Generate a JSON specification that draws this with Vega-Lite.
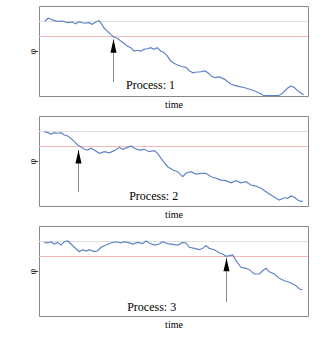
{
  "$schema": "https://vega.github.io/schema/vega-lite/v6.json",
  "padding": {"left": 26, "top": 5, "right": 5, "bottom": 5},
  "background": "white",
  "data": {"values": [
    {"p":1,"k":"w","t":6,"v":0},{"p":1,"k":"w","t":9.3,"v":0.2},{"p":1,"k":"w","t":13.3,"v":0.07},{"p":1,"k":"w","t":18.3,"v":-0.02},{"p":1,"k":"w","t":23.3,"v":0},{"p":1,"k":"w","t":28.3,"v":-0.11},{"p":1,"k":"w","t":33.3,"v":-0.07},{"p":1,"k":"w","t":36.7,"v":-0.18},{"p":1,"k":"w","t":40,"v":-0.05},{"p":1,"k":"w","t":45,"v":-0.15},{"p":1,"k":"w","t":50,"v":-0.11},{"p":1,"k":"w","t":53.3,"v":-0.22},{"p":1,"k":"w","t":56.7,"v":-0.07},{"p":1,"k":"w","t":60,"v":0.02},{"p":1,"k":"w","t":61.7,"v":-0.11},{"p":1,"k":"w","t":65,"v":-0.45},{"p":1,"k":"w","t":68.3,"v":-0.67},{"p":1,"k":"w","t":71.7,"v":-0.89},{"p":1,"k":"w","t":75,"v":-1.08},{"p":1,"k":"w","t":78.3,"v":-1.15},{"p":1,"k":"w","t":81.7,"v":-1.33},{"p":1,"k":"w","t":85,"v":-1.49},{"p":1,"k":"w","t":88.3,"v":-1.67},{"p":1,"k":"w","t":91.7,"v":-1.78},{"p":1,"k":"w","t":95,"v":-2.0},{"p":1,"k":"w","t":98.3,"v":-1.95},{"p":1,"k":"w","t":101.7,"v":-2.0},{"p":1,"k":"w","t":105,"v":-1.89},{"p":1,"k":"w","t":108.3,"v":-1.85},{"p":1,"k":"w","t":111.7,"v":-1.78},{"p":1,"k":"w","t":115,"v":-1.89},{"p":1,"k":"w","t":118.3,"v":-1.78},{"p":1,"k":"w","t":121.7,"v":-2.0},{"p":1,"k":"w","t":125,"v":-2.11},{"p":1,"k":"w","t":128.3,"v":-2.33},{"p":1,"k":"w","t":131.7,"v":-2.67},{"p":1,"k":"w","t":135,"v":-2.82},{"p":1,"k":"w","t":139,"v":-2.95},{"p":1,"k":"w","t":144,"v":-3.05},{"p":1,"k":"w","t":147.3,"v":-3.11},{"p":1,"k":"w","t":150.7,"v":-3.33},{"p":1,"k":"w","t":154,"v":-3.45},{"p":1,"k":"w","t":157.3,"v":-3.4},{"p":1,"k":"w","t":160.7,"v":-3.4},{"p":1,"k":"w","t":165.7,"v":-3.33},{"p":1,"k":"w","t":169,"v":-3.45},{"p":1,"k":"w","t":172.3,"v":-3.67},{"p":1,"k":"w","t":175.7,"v":-3.78},{"p":1,"k":"w","t":180.7,"v":-3.73},{"p":1,"k":"w","t":185.7,"v":-3.89},{"p":1,"k":"w","t":189,"v":-4.07},{"p":1,"k":"w","t":192.3,"v":-4.22},{"p":1,"k":"w","t":195.7,"v":-4.29},{"p":1,"k":"w","t":200.7,"v":-4.38},{"p":1,"k":"w","t":205.7,"v":-4.45},{"p":1,"k":"w","t":210.7,"v":-4.55},{"p":1,"k":"w","t":215.7,"v":-4.67},{"p":1,"k":"w","t":220.7,"v":-4.82},{"p":1,"k":"w","t":224,"v":-4.95},{"p":1,"k":"w","t":229,"v":-4.98},{"p":1,"k":"w","t":234,"v":-4.97},{"p":1,"k":"w","t":239,"v":-4.98},{"p":1,"k":"w","t":242.3,"v":-4.89},{"p":1,"k":"w","t":245.7,"v":-4.67},{"p":1,"k":"w","t":249,"v":-4.45},{"p":1,"k":"w","t":252.3,"v":-4.33},{"p":1,"k":"w","t":255.7,"v":-4.45},{"p":1,"k":"w","t":259,"v":-4.67},{"p":1,"k":"w","t":262.3,"v":-4.82},{"p":1,"k":"w","t":264.7,"v":-4.91},
    {"p":2,"k":"w","t":5.3,"v":-0.05},{"p":2,"k":"w","t":8.7,"v":-0.11},{"p":2,"k":"w","t":12,"v":-0.2},{"p":2,"k":"w","t":15.3,"v":-0.11},{"p":2,"k":"w","t":18.7,"v":-0.15},{"p":2,"k":"w","t":22,"v":-0.11},{"p":2,"k":"w","t":25.3,"v":-0.27},{"p":2,"k":"w","t":28.7,"v":-0.33},{"p":2,"k":"w","t":32,"v":-0.49},{"p":2,"k":"w","t":35.3,"v":-0.71},{"p":2,"k":"w","t":38.7,"v":-0.93},{"p":2,"k":"w","t":42,"v":-1.05},{"p":2,"k":"w","t":45.3,"v":-1.22},{"p":2,"k":"w","t":48.7,"v":-1.27},{"p":2,"k":"w","t":52,"v":-1.15},{"p":2,"k":"w","t":55.3,"v":-1.27},{"p":2,"k":"w","t":60.3,"v":-1.49},{"p":2,"k":"w","t":65.3,"v":-1.38},{"p":2,"k":"w","t":70.3,"v":-1.45},{"p":2,"k":"w","t":75.3,"v":-1.31},{"p":2,"k":"w","t":80.3,"v":-1.09},{"p":2,"k":"w","t":83.7,"v":-1.22},{"p":2,"k":"w","t":88.7,"v":-1.09},{"p":2,"k":"w","t":92,"v":-1.0},{"p":2,"k":"w","t":95.3,"v":-1.15},{"p":2,"k":"w","t":100.3,"v":-1.27},{"p":2,"k":"w","t":105.3,"v":-1.22},{"p":2,"k":"w","t":110.3,"v":-1.38},{"p":2,"k":"w","t":115.3,"v":-1.31},{"p":2,"k":"w","t":118.7,"v":-1.49},{"p":2,"k":"w","t":122,"v":-1.82},{"p":2,"k":"w","t":125.3,"v":-2.11},{"p":2,"k":"w","t":128.7,"v":-2.38},{"p":2,"k":"w","t":133.7,"v":-2.6},{"p":2,"k":"w","t":138.7,"v":-2.71},{"p":2,"k":"w","t":143.7,"v":-3.05},{"p":2,"k":"w","t":147,"v":-2.82},{"p":2,"k":"w","t":152,"v":-2.71},{"p":2,"k":"w","t":157,"v":-2.87},{"p":2,"k":"w","t":162,"v":-2.82},{"p":2,"k":"w","t":167,"v":-2.82},{"p":2,"k":"w","t":172,"v":-3.05},{"p":2,"k":"w","t":177,"v":-3.15},{"p":2,"k":"w","t":182,"v":-3.27},{"p":2,"k":"w","t":187,"v":-3.31},{"p":2,"k":"w","t":192,"v":-3.45},{"p":2,"k":"w","t":197,"v":-3.31},{"p":2,"k":"w","t":202,"v":-3.45},{"p":2,"k":"w","t":207,"v":-3.38},{"p":2,"k":"w","t":212,"v":-3.6},{"p":2,"k":"w","t":217,"v":-3.67},{"p":2,"k":"w","t":222,"v":-3.82},{"p":2,"k":"w","t":227,"v":-4.05},{"p":2,"k":"w","t":232,"v":-4.27},{"p":2,"k":"w","t":237,"v":-4.49},{"p":2,"k":"w","t":240.3,"v":-4.6},{"p":2,"k":"w","t":245.3,"v":-4.45},{"p":2,"k":"w","t":248.7,"v":-4.49},{"p":2,"k":"w","t":252,"v":-4.33},{"p":2,"k":"w","t":255.3,"v":-4.42},{"p":2,"k":"w","t":258.7,"v":-4.6},{"p":2,"k":"w","t":262,"v":-4.71},{"p":2,"k":"w","t":263.7,"v":-4.65},
    {"p":3,"k":"w","t":5.3,"v":-0.09},{"p":3,"k":"w","t":8.7,"v":-0.13},{"p":3,"k":"w","t":12,"v":-0.05},{"p":3,"k":"w","t":15.3,"v":-0.2},{"p":3,"k":"w","t":18.7,"v":-0.09},{"p":3,"k":"w","t":22,"v":-0.27},{"p":3,"k":"w","t":25.3,"v":-0.05},{"p":3,"k":"w","t":28.7,"v":0},{"p":3,"k":"w","t":32,"v":-0.2},{"p":3,"k":"w","t":35.3,"v":-0.42},{"p":3,"k":"w","t":40.3,"v":-0.71},{"p":3,"k":"w","t":43.7,"v":-0.58},{"p":3,"k":"w","t":47,"v":-0.67},{"p":3,"k":"w","t":50.3,"v":-0.58},{"p":3,"k":"w","t":55.3,"v":-0.71},{"p":3,"k":"w","t":58.7,"v":-0.65},{"p":3,"k":"w","t":62,"v":-0.42},{"p":3,"k":"w","t":67,"v":-0.27},{"p":3,"k":"w","t":72,"v":-0.13},{"p":3,"k":"w","t":77,"v":-0.05},{"p":3,"k":"w","t":82,"v":-0.13},{"p":3,"k":"w","t":85.3,"v":-0.05},{"p":3,"k":"w","t":90.3,"v":-0.13},{"p":3,"k":"w","t":93.7,"v":-0.2},{"p":3,"k":"w","t":98.7,"v":-0.09},{"p":3,"k":"w","t":103.7,"v":-0.18},{"p":3,"k":"w","t":107,"v":0},{"p":3,"k":"w","t":110.3,"v":-0.13},{"p":3,"k":"w","t":115.3,"v":-0.27},{"p":3,"k":"w","t":120.3,"v":-0.2},{"p":3,"k":"w","t":123.7,"v":-0.05},{"p":3,"k":"w","t":128.7,"v":-0.18},{"p":3,"k":"w","t":133.7,"v":-0.22},{"p":3,"k":"w","t":138.7,"v":-0.27},{"p":3,"k":"w","t":143.7,"v":-0.09},{"p":3,"k":"w","t":147,"v":-0.13},{"p":3,"k":"w","t":150.3,"v":-0.42},{"p":3,"k":"w","t":155.3,"v":-0.49},{"p":3,"k":"w","t":160.3,"v":-0.58},{"p":3,"k":"w","t":163.7,"v":-0.49},{"p":3,"k":"w","t":167,"v":-0.31},{"p":3,"k":"w","t":170.3,"v":-0.49},{"p":3,"k":"w","t":175.3,"v":-0.58},{"p":3,"k":"w","t":180.3,"v":-0.8},{"p":3,"k":"w","t":183.7,"v":-0.87},{"p":3,"k":"w","t":187,"v":-1.02},{"p":3,"k":"w","t":190.3,"v":-0.98},{"p":3,"k":"w","t":193.7,"v":-0.93},{"p":3,"k":"w","t":197,"v":-1.31},{"p":3,"k":"w","t":202,"v":-1.75},{"p":3,"k":"w","t":207,"v":-1.82},{"p":3,"k":"w","t":210.3,"v":-1.91},{"p":3,"k":"w","t":215.3,"v":-2.2},{"p":3,"k":"w","t":220.3,"v":-2.2},{"p":3,"k":"w","t":223.7,"v":-1.98},{"p":3,"k":"w","t":227,"v":-1.82},{"p":3,"k":"w","t":230.3,"v":-2.05},{"p":3,"k":"w","t":235.3,"v":-2.2},{"p":3,"k":"w","t":240.3,"v":-2.49},{"p":3,"k":"w","t":245.3,"v":-2.65},{"p":3,"k":"w","t":250.3,"v":-2.75},{"p":3,"k":"w","t":253.7,"v":-2.87},{"p":3,"k":"w","t":257,"v":-2.98},{"p":3,"k":"w","t":260.3,"v":-3.2},{"p":3,"k":"w","t":263.7,"v":-3.25},
    {"p":1,"k":"a","t":74,"v":-1.22,"v2":-4.07},
    {"p":2,"k":"a","t":39,"v":-1.27,"v2":-4.07},
    {"p":3,"k":"a","t":187,"v":-1.13,"v2":-4.07},
    {"p":1,"k":"l","t":111.5,"v":-4.55,"label":"Process: 1"},
    {"p":2,"k":"l","t":114.7,"v":-4.6,"label":"Process: 2"},
    {"p":3,"k":"l","t":112.7,"v":-4.65,"label":"Process: 3"}
  ]},
  "facet": {"row": {"field": "p", "type": "ordinal", "header": {"title": null, "labels": false, "labelPadding": 0, "titlePadding": 0}}},
  "spacing": 5,
  "resolve": {"axis": {"x": "independent", "y": "independent"}},
  "spec": {
    "width": 269,
    "height": 90,
    "encoding": {
      "x": {"field": "t", "type": "quantitative", "scale": {"domain": [0, 269], "nice": false, "zero": false},
            "axis": {"title": "time", "labels": false, "ticks": false, "domain": false, "grid": false, "titleFont": "Times New Roman, Liberation Serif, serif", "titleFontSize": 10, "titleFontWeight": "normal", "titleColor": "black", "titlePadding": 3}},
      "y": {"field": "v", "type": "quantitative", "scale": {"domain": [-5, 1], "nice": false, "zero": false},
            "axis": {"title": "φ", "labels": false, "ticks": false, "domain": false, "grid": false, "titleFont": "Times New Roman, Liberation Serif, serif", "titleFontSize": 10, "titleFontWeight": "normal", "titleColor": "black", "titlePadding": 2}}
    },
    "layer": [
      {"mark": {"type": "rule", "color": "#e0e0e0", "strokeWidth": 1, "yOffset": 0.5}, "encoding": {"y": {"datum": 0}, "x": {"datum": 0}, "x2": {"datum": 269}}},
      {"mark": {"type": "rule", "color": "#f7b8b8", "strokeWidth": 1, "yOffset": 0.5}, "encoding": {"y": {"datum": -1}, "x": {"datum": 0}, "x2": {"datum": 269}}},
      {"transform": [{"filter": "datum.k === 'w'"}], "mark": {"type": "line", "color": "#5f84c6", "strokeWidth": 1.2, "clip": true}},
      {"transform": [{"filter": "datum.k === 'a'"}], "mark": {"type": "rule", "color": "#8c8c8c", "strokeWidth": 1, "xOffset": 0.5}, "encoding": {"y2": {"field": "v2"}}},
      {"transform": [{"filter": "datum.k === 'a'"}], "mark": {"type": "point", "shape": "M0,-1L0.45,1L-0.45,1Z", "filled": true, "color": "black", "opacity": 1, "size": 180, "yOffset": 6.7, "xOffset": 0.5}},
      {"transform": [{"filter": "datum.k === 'l'"}], "mark": {"type": "text", "font": "Times New Roman, Liberation Serif, serif", "fontSize": 12, "baseline": "alphabetic", "align": "center", "color": "black"}, "encoding": {"text": {"field": "label"}}}
    ]
  },
  "config": {"view": {"stroke": "#888888", "strokeWidth": 1}}
}
